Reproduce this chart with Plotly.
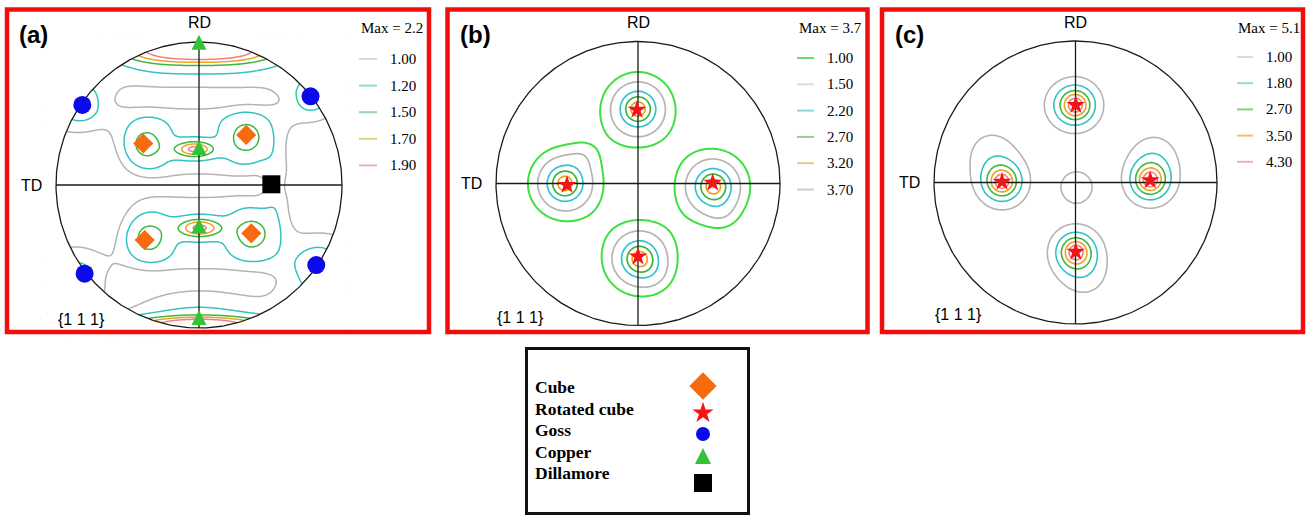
import numpy as np
import plotly.graph_objects as go

W, H = 1313, 517

# ---------------- contour levels of the three {111} pole figures ----------------
levels_a = [1.00, 1.20, 1.50, 1.70, 1.90]
levels_b = [1.00, 1.50, 2.20, 2.70, 3.20, 3.70]
levels_c = [1.00, 1.80, 2.70, 3.50, 4.30]
max_a, max_b, max_c = 2.2, 3.7, 5.1

colors_a = ["#b4b4b4", "#33c2c2", "#3cb83c", "#f2a21e", "#f07c84"]
colors_b = ["#3ee03e", "#b4b4b4", "#33c2d0", "#3cb43c", "#f0a020", "#c9b9c9"]
colors_c = ["#b4b4b4", "#33c2c2", "#3cb83c", "#f0a020", "#f08088"]
keys_a = ["#dadada", "#8fdcdc", "#9fd0a8", "#e3d27a", "#e5b3c0"]
keys_b = ["#66dd66", "#dddddd", "#8ad6e0", "#8fcf8f", "#e3cf7a", "#d3c9d3"]
keys_c = ["#dadada", "#8fdcdc", "#7fd07f", "#f0c070", "#e5b3c0"]

# ---------------- texture component positions (unit pole-figure coordinates) ----------------
cube_x = [-0.39, 0.33, -0.38, 0.366]
cube_y = [0.29, 0.35, -0.385, -0.338]
goss_x = [-0.816, 0.78, -0.80, 0.82]
goss_y = [0.56, 0.62, -0.62, -0.56]
copper_x = [0.0, 0.0, 0.0, 0.0]
copper_y = [1.05, 0.315, -0.233, -0.874]      # apex of each triangle
dillamore_x = [0.506]
dillamore_y = [0.005]
rotcube_b_x = [-0.007, -0.50, 0.526, 0.0]
rotcube_b_y = [0.519, -0.01, 0.005, -0.514]
rotcube_c_x = [0.002, -0.519, 0.528, 0.002]
rotcube_c_y = [0.547, 0.005, 0.016, -0.49]

# ---------------- intensity model of pole figure (a) ----------------
a_base = 0.66
# ridges and spots (separable super-Gaussians)
#        upper  lower  link   top   bottom  cube x4                        copper x2
a_bx   = [0.01, 0.00, 0.55, 0.00, 0.00, -0.375, 0.336, -0.357, 0.37, -0.03, 0.005]
a_by   = [0.28, -0.31, 0.00, 0.95, -0.95, 0.28, 0.326, -0.366, -0.338, 0.25, -0.30]
a_bamp = [0.40, 0.40, 0.28, 0.65, 0.572, 0.60, 0.60, 0.60, 0.60, 0.90, 0.90]
a_bsx  = [0.62, 0.62, 0.10, 0.62, 0.65, 0.16, 0.16, 0.16, 0.16, 0.14, 0.155]
a_bsy  = [0.27, 0.30, 0.30, 0.33, 0.29, 0.16, 0.16, 0.16, 0.16, 0.06, 0.07]
a_bpx  = [4, 4, 2, 4, 2, 2, 2, 2, 2, 2, 2]
a_bpy  = [6, 6, 2, 2, 2, 2, 2, 2, 2, 2, 2]
# round spots along the rim: four broad Goss regions, then their cores
a_sx   = [-0.88, 0.82, -0.88, 0.88, -0.816, 0.78, -0.80, 0.82]
a_sy   = [0.60, 0.64, -0.62, -0.60, 0.56, 0.62, -0.62, -0.56]
a_samp = [0.60, 0.50, 0.55, 0.60, 0.25, 0.25, 0.06, 0.25]
a_ss   = [0.30, 0.28, 0.26, 0.34, 0.10, 0.10, 0.08, 0.10]
a_sp   = [2, 2, 2, 2, 2, 2, 2, 2]
# steep ridges along the RD rim
a_rim_y0  = [0.87, -0.93]
a_rim_w   = [0.03, 0.02]
a_rim_amp = [1.1, 1.1]
a_rim_sx  = [0.59, 0.59]

# ---------------- intensity model of pole figure (b) ----------------
b_base = 0.30
b_x   = [0.0, -0.515, 0.53, 0.01, -0.38, 0.60, 0.12]
b_y   = [0.525, 0.0, -0.02, -0.53, 0.20, -0.22, -0.65]
b_amp = [3.45, 3.45, 3.45, 3.45, 0.30, 0.30, 0.25]
b_s   = [0.183, 0.183, 0.183, 0.183, 0.10, 0.12, 0.12]
b_p   = [1.33, 1.33, 1.33, 1.33, 2, 2, 2]

# ---------------- intensity model of pole figure (c) ----------------
c_base = 0.35
c_x   = [0.002, -0.519, 0.528, 0.002, 0.002, -0.519, 0.528, 0.002,
         -0.10, -0.60, 0.56, 0.07, 0.007]
c_y   = [0.547, 0.005, 0.016, -0.49, 0.547, 0.005, 0.016, -0.49,
         0.55, 0.22, 0.20, -0.66, -0.03]
c_amp = [4.15, 4.15, 4.15, 4.15, 0.60, 0.60, 0.60, 0.60,
         0.35, 0.75, 0.75, 0.70, 0.80]
c_s   = [0.11, 0.11, 0.11, 0.11, 0.25, 0.25, 0.25, 0.25,
         0.15, 0.20, 0.18, 0.18, 0.148]
c_p   = [1.6, 1.6, 1.6, 1.6, 2, 2, 2, 2, 2, 2, 2, 2, 4]

# ---------------- layout geometry (pixels) ----------------
panels = [dict(cx=199.0, cy=185.0, r=143.0),
          dict(cx=638.0, cy=183.5, r=142.0),
          dict(cx=1075.5, cy=182.5, r=141.5)]
PAD = 1.06
N = 241


def separable(X, Y, cx, cy, amp, sx, sy, px, py):
    out = np.zeros_like(X)
    for x0, y0, a, s1, s2, p1, p2 in zip(cx, cy, amp, sx, sy, px, py):
        out += a * np.exp(-(np.abs(X - x0) / s1) ** p1 - (np.abs(Y - y0) / s2) ** p2)
    return out


def radial(X, Y, cx, cy, amp, s, p):
    out = np.zeros_like(X)
    for x0, y0, a, s0, p0 in zip(cx, cy, amp, s, p):
        r = np.hypot(X - x0, Y - y0)
        out += a * np.exp(-(r / s0) ** p0)
    return out


def rim(X, Y, y0s, ws, amps, sxs):
    out = np.zeros_like(X)
    for y0, w, a, sx in zip(y0s, ws, amps, sxs):
        sgn = np.sign(y0)
        out += a / (1.0 + np.exp(-(sgn * Y - abs(y0)) / w)) * np.exp(-(X / sx) ** 2)
    return out


def field_a(X, Y):
    return (a_base + separable(X, Y, a_bx, a_by, a_bamp, a_bsx, a_bsy, a_bpx, a_bpy)
            + radial(X, Y, a_sx, a_sy, a_samp, a_ss, a_sp)
            + rim(X, Y, a_rim_y0, a_rim_w, a_rim_amp, a_rim_sx))


def field_b(X, Y):
    return b_base + radial(X, Y, b_x, b_y, b_amp, b_s, b_p)


def field_c(X, Y):
    return c_base + radial(X, Y, c_x, c_y, c_amp, c_s, c_p)


def grid(evaluate):
    g = np.linspace(-PAD, PAD, N)
    X, Y = np.meshgrid(g, g)
    R = np.maximum(np.hypot(X, Y), 1.0)
    return g, evaluate(X / R, Y / R).astype(np.float32)


fig = go.Figure()
shapes, annotations = [], []


def px_x(x):
    return x / W


def px_y(y):
    return 1 - y / H


def add_text(text, x, y, size, family, xanchor="center", color="#000000"):
    annotations.append(dict(text=text, x=px_x(x), y=px_y(y), xref="paper", yref="paper",
                            xanchor=xanchor, yanchor="middle", showarrow=False,
                            font=dict(size=size, family=family, color=color)))


theta = np.linspace(0, 2 * np.pi, 361)
fields = [field_a, field_b, field_c]
levels = [levels_a, levels_b, levels_c]
colors = [colors_a, colors_b, colors_c]
widths = [1.5, 1.7, 1.6]

for i, (pan, fld, lev, col, lw) in enumerate(zip(panels, fields, levels, colors, widths)):
    xa = "x" if i == 0 else f"x{i + 1}"
    ya = "y" if i == 0 else f"y{i + 1}"
    half = pan["r"] * PAD
    fig.layout[("xaxis" if i == 0 else f"xaxis{i + 1}")] = dict(
        domain=[px_x(pan["cx"] - half), px_x(pan["cx"] + half)], range=[-PAD, PAD],
        visible=False, fixedrange=True)
    fig.layout[("yaxis" if i == 0 else f"yaxis{i + 1}")] = dict(
        domain=[px_y(pan["cy"] + half), px_y(pan["cy"] - half)], range=[-PAD, PAD],
        visible=False, fixedrange=True)

    g, Z = grid(fld)
    for L, c in zip(lev, col):
        w = 2.0 if (i == 1 and L == lev[0]) else lw
        fig.add_trace(go.Contour(
            x=g, y=g, z=Z, xaxis=xa, yaxis=ya, autocontour=False,
            contours=dict(start=L, end=L + 0.01, size=1, coloring="none"),
            line=dict(color=c, width=w, smoothing=0.9), showscale=False,
            hoverinfo="skip"))

    # white mask outside the unit circle
    R2 = PAD + 0.1
    ring_t = np.linspace(np.pi, -np.pi, 361)
    mx = np.concatenate([[-R2, -R2, R2, R2, -R2, -R2], np.cos(ring_t), [-R2]])
    my = np.concatenate([[0, -R2, -R2, R2, R2, 0], np.sin(ring_t), [0]])
    fig.add_trace(go.Scatter(x=mx, y=my, xaxis=xa, yaxis=ya, mode="lines", fill="toself",
                             fillcolor="white", line=dict(width=0), hoverinfo="skip"))
    # primitive circle and RD / TD axes
    fig.add_trace(go.Scatter(x=np.cos(theta), y=np.sin(theta), xaxis=xa, yaxis=ya,
                             mode="lines", line=dict(color="#1a1a1a", width=1.3),
                             hoverinfo="skip", cliponaxis=False))
    fig.add_trace(go.Scatter(x=[-1, 1, None, 0, 0], y=[0, 0, None, -1, 1], xaxis=xa, yaxis=ya,
                             mode="lines", line=dict(color="#1a1a1a", width=1.3),
                             hoverinfo="skip", cliponaxis=False))


# ---------------- texture component markers ----------------
def marks(x, y, xa, ya, symbol, size, color):
    fig.add_trace(go.Scatter(x=x, y=y, xaxis=xa, yaxis=ya, mode="markers", cliponaxis=False,
                             marker=dict(symbol=symbol, size=size, color=color, line=dict(width=0)),
                             hoverinfo="skip"))


CUBE_C, ROT_C, GOSS_C, COPPER_C, DIL_C = "#f86a10", "#f41414", "#0a0aea", "#36c236", "#000000"
marks(cube_x, cube_y, "x", "y", "diamond", 15.5, CUBE_C)
marks(goss_x, goss_y, "x", "y", "circle", 18, GOSS_C)
marks(copper_x, copper_y, "x", "y", "arrow-up", 15, COPPER_C)
marks(dillamore_x, dillamore_y, "x", "y", "square", 18, DIL_C)
marks(rotcube_b_x, rotcube_b_y, "x2", "y2", "star", 14, ROT_C)
marks(rotcube_c_x, rotcube_c_y, "x3", "y3", "star", 14, ROT_C)

# ---------------- component legend box ----------------
LB = dict(x0=526.5, x1=748.5, y0=348.5, y1=513.5)
fig.layout["xaxis4"] = dict(domain=[px_x(LB["x0"]), px_x(LB["x1"])], range=[LB["x0"], LB["x1"]],
                            visible=False, fixedrange=True)
fig.layout["yaxis4"] = dict(domain=[px_y(LB["y1"]), px_y(LB["y0"])], range=[LB["y1"], LB["y0"]],
                            visible=False, fixedrange=True)
legend_names = ["Cube", "Rotated cube", "Goss", "Copper", "Dillamore"]
legend_symbols = ["diamond", "star", "circle", "arrow-up", "square"]
legend_sizes = [21, 16, 14, 16, 18]
legend_colors = [CUBE_C, ROT_C, GOSS_C, COPPER_C, DIL_C]
legend_text_y = [387, 408.5, 430, 452, 473]
legend_mark_y = [386, 413, 434, 448, 483]
for sym, sz, c, my_ in zip(legend_symbols, legend_sizes, legend_colors, legend_mark_y):
    marks([703], [my_], "x4", "y4", sym, sz, c)
for name, ty in zip(legend_names, legend_text_y):
    add_text(f"<b>{name}</b>", 533, ty, 17.5, "Liberation Serif", xanchor="left")

# ---------------- frames ----------------
for x0, x1 in [(7, 429), (447.5, 867.5), (882, 1303)]:
    shapes.append(dict(type="rect", xref="paper", yref="paper", x0=px_x(x0), x1=px_x(x1),
                       y0=px_y(332), y1=px_y(9.5), line=dict(color="#f20d0d", width=4.5)))
shapes.append(dict(type="rect", xref="paper", yref="paper", x0=px_x(LB["x0"]), x1=px_x(LB["x1"]),
                   y0=px_y(LB["y1"]), y1=px_y(LB["y0"]), line=dict(color="#111111", width=3)))

# ---------------- panel labels, axis names, level keys ----------------
tags = ["(a)", "(b)", "(c)"]
tag_x = [33, 475, 909]
td_right = [44, 484, 922]
keys_x = [(359, 377, 388), (797, 814, 825), (1237, 1253, 1264)]
key_y0 = [59, 58, 57]
key_dy = [26.6, 26.3, 26.2]
max_x = [359, 797, 1236]
max_vals = [max_a, max_b, max_c]
key_cols = [keys_a, keys_b, keys_c]
pole_x = [81, 520, 958]
pole_y = [319, 317, 314]

for i, pan in enumerate(panels):
    add_text(f"<b>{tags[i]}</b>", tag_x[i], 34, 24, "Liberation Sans")
    add_text("RD", pan["cx"], 22.5, 16, "Liberation Sans")
    add_text("TD", td_right[i], pan["cy"], 16, "Liberation Sans", xanchor="right")
    add_text("{1 1 1}", pole_x[i], pole_y[i], 16, "Liberation Sans")
    add_text(f"Max = {max_vals[i]}", max_x[i], 27.5, 15, "Liberation Serif", xanchor="left")
    lx0, lx1, tx = keys_x[i]
    for k, (L, kc) in enumerate(zip(levels[i], key_cols[i])):
        yy = key_y0[i] + k * key_dy[i]
        shapes.append(dict(type="line", xref="paper", yref="paper", x0=px_x(lx0), x1=px_x(lx1),
                           y0=px_y(yy), y1=px_y(yy), line=dict(color=kc, width=2)))
        add_text(f"{L:.2f}", tx, yy, 15, "Liberation Serif", xanchor="left")

fig.update_layout(width=W, height=H, margin=dict(l=0, r=0, t=0, b=0), showlegend=False,
                  paper_bgcolor="white", plot_bgcolor="rgba(0,0,0,0)",
                  shapes=shapes, annotations=annotations)
fig.write_html("out.html")
